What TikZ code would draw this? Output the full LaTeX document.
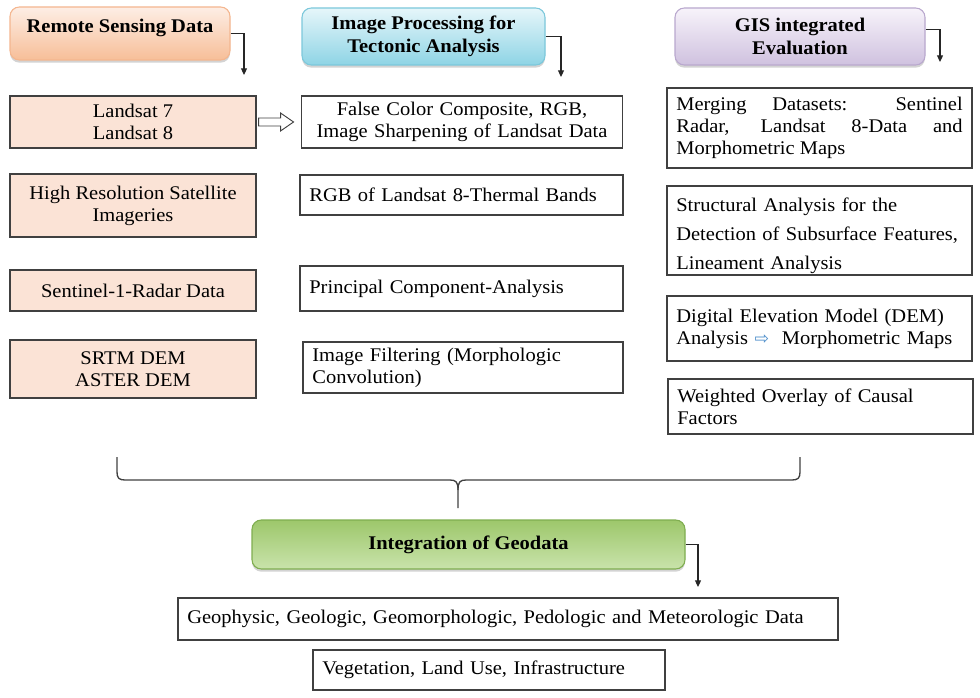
\documentclass[tikz,border=0pt]{standalone}
\usepackage{fontspec}
\setmainfont{Liberation Serif}[FakeStretch=1.06]
\newfontfamily\symfont{DejaVu Sans}
\usepackage{tikz}
\usetikzlibrary{arrows.meta,positioning,calc,shadows}
\definecolor{boxline}{HTML}{404040}
\definecolor{peach}{HTML}{FBE3D6}
\definecolor{rsdline}{HTML}{F4B68F}
\definecolor{rsdtop}{HTML}{FDEEE5}
\definecolor{rsdbot}{HTML}{F7BE98}
\definecolor{iptline}{HTML}{7CC8DB}
\definecolor{ipttop}{HTML}{E6F6FA}
\definecolor{iptbot}{HTML}{8ED4E5}
\definecolor{gisline}{HTML}{B9A8CE}
\definecolor{gistop}{HTML}{F7F3FA}
\definecolor{gisbot}{HTML}{CFC1DF}
\definecolor{intline}{HTML}{7FAD50}
\definecolor{inttop}{HTML}{9DC76B}
\definecolor{intbot}{HTML}{C9E3AB}
\definecolor{arrowblue}{HTML}{4F8FCB}
\newcommand\bodyfont{\fontsize{14.5}{16.5}\selectfont}

\tikzset{
  hdr/.style n args={3}{rounded corners=7pt, draw=#1, line width=0.8pt,
    top color=#2, bottom color=#3, align=center,
    font=\bfseries\fontsize{14.5}{17}\selectfont,
    drop shadow={shadow xshift=0pt, shadow yshift=-2pt, opacity=0.35}},
  databox/.style={draw=boxline, fill=peach, line width=0.8pt, align=center,
    minimum width=184.5pt, font=\bodyfont},
  procbox/.style={draw=boxline, line width=0.8pt, align=left, inner xsep=7pt,
    font=\bodyfont},
  elbow/.style={draw=black!85, line width=0.8pt, -{Triangle[length=5pt,width=4.5pt]}},
  hollow/.style={draw=boxline, line width=0.7pt, fill=white}
}

\begin{document}
\begin{tikzpicture}[x=0.75pt,y=-0.75pt]
\useasboundingbox (0,0) rectangle (980,698);

% headers
\node[hdr={rsdline}{rsdtop}{rsdbot}, minimum width=165pt, minimum height=39.75pt, text depth=12pt] (rsd) at (120,33.5) {Remote Sensing Data};
\node[hdr={iptline}{ipttop}{iptbot}, minimum width=182.25pt, minimum height=42.75pt] (ipt) at (423.5,36.5) {Image Processing for\\Tectonic Analysis};
\node[hdr={gisline}{gistop}{gisbot}, minimum width=187.5pt, minimum height=42.75pt] (gis) at (800,36.5) {GIS integrated\\Evaluation};

\coordinate (rsdEnd) at (244,75);
\coordinate (iptEnd) at (561,77);
\coordinate (gisEnd) at (940,62);
\draw[elbow] (rsd.east) -| (rsdEnd);
\draw[elbow] (ipt.east) -| (iptEnd);
\draw[elbow] ([yshift=5pt]gis.east) -| (gisEnd);

% remote sensing data
\node[databox, minimum height=39pt] (land) at (133,122) {Landsat 7\\Landsat 8};
\node[databox, minimum height=47.25pt] (hires) at (133,205.5) {High Resolution Satellite\\Imageries};
\node[databox, minimum height=30.75pt] (sent) at (133,290.5) {Sentinel-1-Radar Data};
\node[databox, minimum height=43.5pt] (srtm) at (133,369) {SRTM DEM\\ASTER DEM};

% image processing
\node[procbox, align=center, text width=227.25pt, minimum height=39pt] (fcc) at (462,122) {False Color Composite, RGB,\\Image Sharpening of Landsat Data};
\node[procbox, text width=228.25pt, minimum height=30pt] (rgb) at (461.5,195) {RGB of Landsat 8-Thermal Bands};
\node[procbox, text width=228.25pt, minimum height=33.75pt] (pca) at (461.5,288.5) {Principal Component-Analysis};
\node[procbox, text width=226pt, minimum height=38.25pt] (filt) at (463,367.5) {Image Filtering (Morphologic\\Convolution)};

% hollow arrow landsat -> fcc
\coordinate (arrS) at ([xshift=1.5pt]land.east);
\draw[hollow] (arrS) ++(0,3pt) -- ++(16.5pt,0) -- ++(0,3.75pt) -- ++(9.75pt,-6.75pt)
  -- ++(-9.75pt,-6.75pt) -- ++(0,3.75pt) -- ++(-16.5pt,0) -- cycle;

% gis evaluation
\node[procbox, align=justify, text width=214.75pt, minimum height=60pt] (merge) at (819.5,128) {Merging Datasets: Sentinel\break Radar, Landsat 8-Data and\break Morphometric Maps};
\node[procbox, text width=214.75pt, minimum height=66.75pt, text depth=39pt, font=\fontsize{14.5}{22}\selectfont] (struct) at (819.5,230.5) {Structural Analysis for the\\Detection of Subsurface Features,\\Lineament Analysis};
\node[procbox, text width=214.75pt, minimum height=48.75pt] (dem) at (819.5,328.5) {Digital Elevation Model (DEM)\\Analysis {\symfont\fontsize{13}{13}\selectfont\color{arrowblue}⇨}\ \ Morphometric Maps};
\node[procbox, text width=214.75pt, minimum height=41.25pt] (wgt) at (820.5,406.5) {Weighted Overlay of Causal\\Factors};

% brace
\coordinate (braceL) at (117,457);
\coordinate (braceR) at (800,457);
\coordinate (braceTip) at (458,508);
\draw[boxline, line width=1pt] (braceL) -- (117,472) .. controls (117,478) and (119,480) .. (125,480)
  -- (450,480) .. controls (456,480) and (458,482) .. (458,490) -- (braceTip);
\draw[boxline, line width=1pt] (braceR) -- (800,472) .. controls (800,478) and (798,480) .. (792,480)
  -- (466,480) .. controls (460,480) and (458,482) .. (458,490);

% integration
\node[hdr={intline}{inttop}{intbot}, minimum width=324.75pt, minimum height=36.75pt] (intg) at (468.5,544.5) {Integration of Geodata};
\coordinate (intgEnd) at (698,587);
\draw[elbow] (intg.east) -| (intgEnd);

\node[procbox, text width=481pt, minimum height=31.5pt] (geo) at (508,619) {Geophysic, Geologic, Geomorphologic, Pedologic and Meteorologic Data};
\node[procbox, text width=250pt, minimum height=30pt] (veg) at (489,670) {Vegetation, Land Use, Infrastructure};
\end{tikzpicture}
\end{document}
